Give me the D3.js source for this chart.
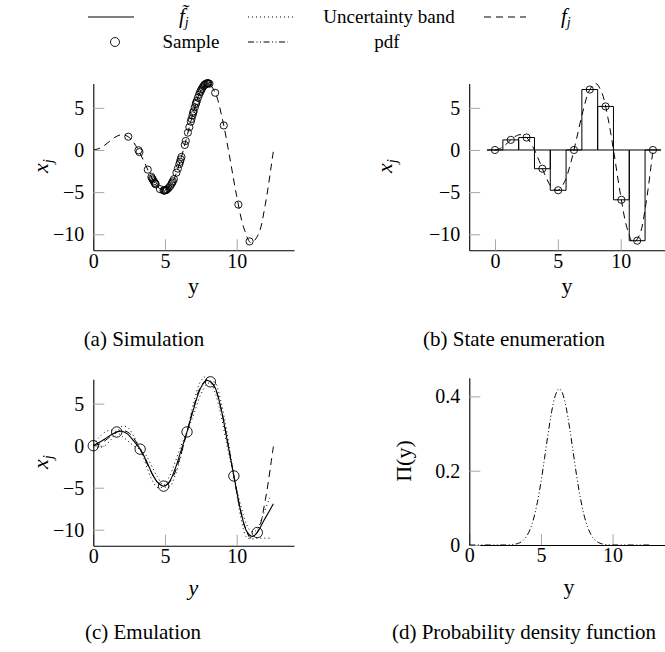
<!DOCTYPE html>
<html><head><meta charset="utf-8">
<script src="https://cdn.jsdelivr.net/npm/d3@7/dist/d3.min.js"></script>
<style>
body{margin:0;background:#fff}
svg{display:block}
text{font-family:"Liberation Serif","Times New Roman",serif;fill:#000}
</style>
</head><body>
<svg id="chart" width="665" height="652"></svg>
<script>
// ---------- data (horizontal axis = y, vertical axis = x_j) ----------
// true function f_j
const fY = [0,0.5,1,1.5,2,2.5,3,3.5,4,4.5,5,5.5,6,6.5,7,7.5,8,8.5,9,9.5,10,10.5,11,11.5,12,12.5,12.57];
const fX = [0,0.24,0.84,1.5,1.82,1.5,0.42,-1.23,-3.03,-4.4,-4.79,-3.88,-1.68,1.4,4.6,7.04,7.91,6.79,3.71,-0.71,-5.44,-9.24,-11.0,-10.07,-6.44,-0.83,0];

// (a) simulation samples
const simY = [2.44,3.15,3.22,3.8,4.05,4.1,4.15,4.22,4.28,4.32,4.35,4.65,4.9,4.95,5.0,5.05,5.08,5.15,5.25,5.35,5.45,5.5,5.55,5.62,5.8,5.9,6.0,6.05,6.1,6.15,6.38,6.45,6.6,6.7,6.8,6.85,6.92,6.97,7.0,7.08,7.15,7.18,7.22,7.3,7.38,7.45,7.5,7.55,7.62,7.7,7.75,7.8,7.88,7.95,7.98,8.02,8.1,8.5,9.1,10.12,10.9];
const simX = [1.58,-0.03,-0.25,-2.33,-3.19,-3.36,-3.51,-3.72,-3.89,-3.99,-4.07,-4.64,-4.81,-4.81,-4.79,-4.76,-4.74,-4.66,-4.51,-4.3,-4.04,-3.88,-3.71,-3.46,-2.69,-2.21,-1.68,-1.4,-1.11,-0.82,0.6,1.07,2.06,2.71,3.36,3.68,4.11,4.42,4.6,5.06,5.45,5.61,5.82,6.21,6.57,6.85,7.04,7.2,7.41,7.61,7.71,7.79,7.88,7.91,7.92,7.91,7.86,6.79,2.91,-6.48,-10.85];

// (b) state enumeration
const stateY = [0,1.257,2.513,3.77,5.027,6.283,7.54,8.796,10.053,11.31,12.566];
const stateX = [0,1.2,1.48,-2.22,-4.78,0,7.17,5.17,-5.91,-10.76,0];

// (c) emulation: training points, emulator mean and uncertainty band
const trainY = [0,1.634,3.268,4.903,6.537,8.171,9.806,11.44];
const trainX = [0,1.63,-0.41,-4.81,1.64,7.6,-3.6,-10.33];
const meanY = [0,0.4,0.8,1.2,1.634,2.0,2.4,2.8,3.268,3.7,4.1,4.5,4.903,5.3,5.7,6.1,6.537,7.0,7.5,7.9,8.171,8.5,8.9,9.3,9.806,10.3,10.7,11.1,11.44,11.9,12.3,12.56];
const meanX = [0,0.38,0.8,1.25,1.63,1.72,1.38,0.6,-0.41,-1.8,-3.3,-4.4,-4.81,-4.3,-2.8,-0.7,1.64,4.4,6.9,7.75,7.6,6.9,4.5,1.0,-3.6,-7.9,-10.2,-10.8,-10.33,-8.9,-7.7,-6.9];
const bandY = [0,0.4,0.8,1.2,1.634,2.0,2.4,2.8,3.268,3.7,4.1,4.5,4.903,5.3,5.7,6.1,6.537,7.0,7.5,7.9,8.171,8.5,8.9,9.3,9.806,10.3,10.7,11.1,11.44,11.9,12.3];
const upperX = [0.1,0.98,1.6,1.85,1.73,2.32,2.18,1.2,-0.31,-1.2,-2.5,-3.8,-4.71,-3.7,-2.0,-0.1,1.74,5.1,7.7,8.25,7.7,7.5,5.3,1.8,-3.5,-7.2,-9.4,-10.3,-9.9,-8.0,-6.2];
const lowerX = [-0.1,-0.22,0.0,0.65,1.53,1.12,0.58,0.0,-0.51,-2.4,-4.1,-5.0,-4.91,-4.9,-3.6,-1.3,1.54,3.7,6.1,7.25,7.5,6.3,3.7,0.2,-3.7,-8.6,-10.9,-11.1,-11.0,-11.0,-11.0];

// (d) probability density function
const pdfY = [0,1,2,2.5,3,3.25,3.5,3.75,4,4.25,4.5,4.75,5,5.25,5.5,5.75,6,6.28,6.5,6.75,7,7.25,7.5,7.75,8,8.25,8.5,8.75,9,9.25,9.5,10,11,12,12.57];
const pdfV = [0,0,0,0,0.0011,0.0026,0.0058,0.0121,0.0236,0.0428,0.0726,0.1148,0.1694,0.2333,0.2998,0.3595,0.4021,0.42,0.4089,0.3716,0.3152,0.2494,0.1841,0.1269,0.0816,0.0489,0.0274,0.0143,0.007,0.0032,0.0013,0,0,0,0];

// tick labels
const yTicks = [0,5,10];
const xjTicks = [-10,-5,0,5];
const pdfTicks = [0,0.2,0.4];

// ---------- drawing ----------
const SERIF = '"Liberation Serif","Times New Roman",serif';
const svg = d3.select("#chart");
const DASH = "7,5", DOT = "1,3", DASHDOT = "6,2.5,1,2.5,1,2.5";

function panel(xDom, xRange, yDom, yRange, yTickVals, fmt){
  const x = d3.scaleLinear().domain(xDom).range(xRange);
  const y = d3.scaleLinear().domain(yDom).range(yRange);
  const g = svg.append("g");
  const ax = g.append("g").attr("transform", `translate(0,${yRange[0]})`)
    .call(d3.axisBottom(x).tickValues(yTicks).tickSizeInner(-11).tickSizeOuter(0).tickPadding(3).tickFormat(d3.format("d")));
  const ay = g.append("g").attr("transform", `translate(${xRange[0]},0)`)
    .call(d3.axisLeft(y).tickValues(yTickVals).tickSizeInner(-11).tickSizeOuter(0).tickPadding(9).tickFormat(fmt));
  [ax, ay].forEach(a => {
    a.attr("font-family", SERIF);
    a.select(".domain").attr("stroke", "#000").attr("stroke-width", 1.1);
    a.selectAll(".tick line").attr("stroke", "#a8a8a8").attr("stroke-width", 1);
    a.selectAll(".tick text").style("font-size", "20px").style("font-family", SERIF).attr("fill", "#000");
  });
  ax.selectAll(".tick text").attr("dy", "0.72em");
  return {x, y, g};
}

function line(p, xs, ys, curve){
  return d3.line().x((d,i) => p.x(xs[i])).y((d,i) => p.y(ys[i])).curve(curve || d3.curveCatmullRom.alpha(0.5))(xs);
}

function circles(p, xs, ys, r){
  p.g.append("g").selectAll("circle").data(xs).join("circle")
    .attr("cx", (d,i) => p.x(xs[i])).attr("cy", (d,i) => p.y(ys[i])).attr("r", r)
    .attr("fill", "none").attr("stroke", "#000").attr("stroke-width", 0.9);
}

function xjLabel(cx, cy){
  const t = svg.append("text").attr("transform", `translate(${cx},${cy}) rotate(-90)`)
    .attr("text-anchor", "middle").style("font-size", "22px").style("font-family", SERIF);
  t.append("tspan").style("font-style", "italic").text("x");
  t.append("tspan").style("font-style", "italic").style("font-size", "15px").attr("dy", 5).text("j");
}

function yLabel(cx, cy, italic){
  svg.append("text").attr("x", cx).attr("y", cy).attr("text-anchor", "middle")
    .style("font-size", "22px").style("font-family", SERIF).style("font-style", italic ? "italic" : "normal").text("y");
}

const xjFmt = d3.format("d");

// (a) Simulation
const pa = panel([0,14], [93.3,294], [-11.9,7.9], [250.3,83.4], xjTicks, xjFmt);
pa.g.append("path").attr("d", line(pa, fY, fX)).attr("fill","none").attr("stroke","#000").attr("stroke-width",1).attr("stroke-dasharray", DASH);
circles(pa, simY, simX, 3.6);
xjLabel(48, 166);
yLabel(193.5, 293, false);

// (b) State enumeration
const pb = panel([-2.05,13.5], [469.2,664.7], [-11.9,7.9], [250.3,83.4], xjTicks, xjFmt);
const half = (stateY[1] - stateY[0]) / 2;
pb.g.append("g").selectAll("path").data(stateY).join("path")
  .attr("d", (d,i) => {
    const x0 = pb.x(d - half), x1 = pb.x(d + half), y0 = pb.y(0), y1 = pb.y(stateX[i]);
    return `M${x0},${y0}V${y1}H${x1}V${y0}Z`;
  })
  .attr("fill","none").attr("stroke","#000").attr("stroke-width",1);
pb.g.append("path").attr("d", line(pb, fY, fX)).attr("fill","none").attr("stroke","#000").attr("stroke-width",1).attr("stroke-dasharray", DASH);
circles(pb, stateY, stateX, 3.6);
xjLabel(392, 166);
yLabel(567, 293, false);

// (c) Emulation
const pc = panel([0,14], [93.3,294], [-11.9,7.9], [545.7,379.3], xjTicks, xjFmt);
pc.g.append("path").attr("d", line(pc, bandY, upperX)).attr("fill","none").attr("stroke","#000").attr("stroke-width",1).attr("stroke-dasharray", DOT);
pc.g.append("path").attr("d", line(pc, bandY, lowerX)).attr("fill","none").attr("stroke","#000").attr("stroke-width",1).attr("stroke-dasharray", DOT);
pc.g.append("path").attr("d", line(pc, fY, fX)).attr("fill","none").attr("stroke","#000").attr("stroke-width",1).attr("stroke-dasharray", DASH);
pc.g.append("path").attr("d", line(pc, meanY, meanX)).attr("fill","none").attr("stroke","#000").attr("stroke-width",1.1);
circles(pc, trainY, trainX, 5.2);
xjLabel(48, 462);
yLabel(193.5, 595, true);

// (d) Probability density function
const pd = panel([0,13.65], [469.3,664.9], [0,0.45], [545,377.8], pdfTicks, d3.format("~g"));
pd.g.append("path").attr("d", line(pd, pdfY, pdfV, d3.curveMonotoneX)).attr("fill","none").attr("stroke","#000").attr("stroke-width",1).attr("stroke-dasharray", DASHDOT);
svg.append("text").attr("transform", "translate(411,461) rotate(-90)").attr("text-anchor","middle")
  .style("font-size","22px").style("font-family", SERIF).text("Π(y)");
yLabel(569, 594, false);

// ---------- legend ----------
const lg = svg.append("g").style("font-size", "19px").style("font-family", SERIF);
const r1 = 17, r2 = 42;
lg.append("line").attr("x1",88).attr("x2",134).attr("y1",r1).attr("y2",r1).attr("stroke","#000").attr("stroke-width",1.1);
const ft = lg.append("text").attr("x",179).attr("y",r1+6).attr("text-anchor","start");
ft.append("tspan").style("font-style","italic").style("font-size","21px").text("f\u0303");
ft.append("tspan").style("font-style","italic").style("font-size","14px").attr("dy",4).text("j");
lg.append("line").attr("x1",248).attr("x2",295).attr("y1",r1).attr("y2",r1).attr("stroke","#000").attr("stroke-dasharray",DOT);
lg.append("text").attr("x",389).attr("y",r1+6).attr("text-anchor","middle").text("Uncertainty band");
lg.append("line").attr("x1",484).attr("x2",526).attr("y1",r1).attr("y2",r1).attr("stroke","#000").attr("stroke-dasharray",DASH);
const fj = lg.append("text").attr("x",561).attr("y",r1+6).attr("text-anchor","start");
fj.append("tspan").style("font-style","italic").style("font-size","21px").text("f");
fj.append("tspan").style("font-style","italic").style("font-size","14px").attr("dy",4).text("j");
lg.append("circle").attr("cx",115).attr("cy",r2).attr("r",4.5).attr("fill","none").attr("stroke","#000").attr("stroke-width",0.9);
lg.append("text").attr("x",191).attr("y",r2+6).attr("text-anchor","middle").text("Sample");
lg.append("line").attr("x1",248).attr("x2",288).attr("y1",r2).attr("y2",r2).attr("stroke","#000").attr("stroke-dasharray",DASHDOT);
lg.append("text").attr("x",387).attr("y",r2+6).attr("text-anchor","middle").text("pdf");

// ---------- captions ----------
const caps = [["(a) Simulation",144,346],["(b) State enumeration",514,346],["(c) Emulation",143,639],["(d) Probability density function",524,639]];
svg.append("g").selectAll("text").data(caps).join("text")
  .attr("x", d => d[1]).attr("y", d => d[2]).attr("text-anchor","middle")
  .style("font-size","21px").style("font-family", SERIF).text(d => d[0]);
</script>
</body></html>
